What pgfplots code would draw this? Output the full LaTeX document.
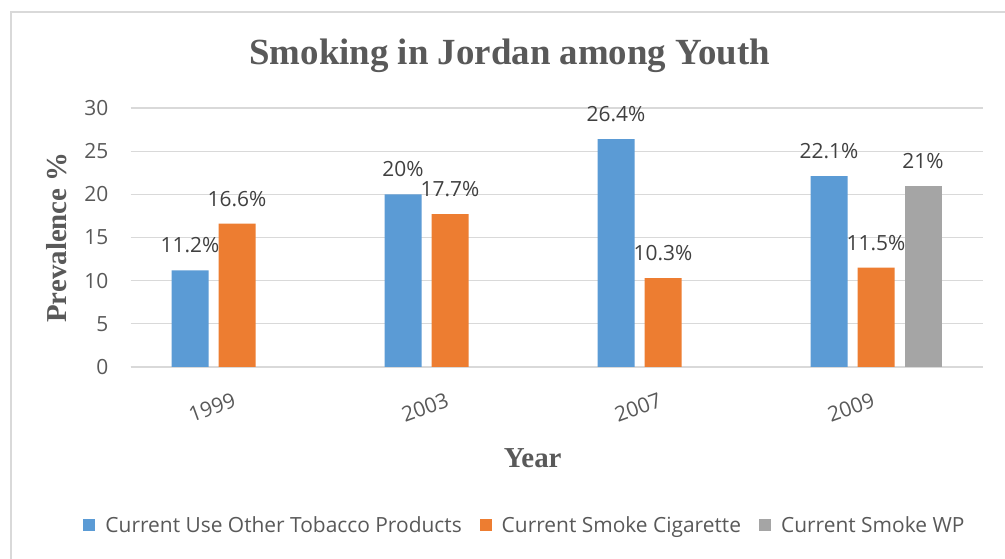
\documentclass[border=0pt]{standalone}
\usepackage{pgfplots}
\pgfplotsset{compat=1.18}
\usepackage{fontspec}
\setmainfont{Open Sans}
\newfontfamily\serifb{Liberation Serif}
\definecolor{cblue}{HTML}{5B9BD5}
\definecolor{corange}{HTML}{ED7D31}
\definecolor{cgray}{HTML}{A5A5A5}
\definecolor{txt}{HTML}{595959}
\definecolor{dtxt}{HTML}{404040}
\definecolor{gridc}{HTML}{D9D9D9}
\begin{document}
\begin{tikzpicture}[x=1bp,y=1bp]
\path[use as bounding box] (0,0) rectangle (1005,559);
\fill[white] (0,0) rectangle (1005,559);
\draw[gridc, line width=2bp] (11,-5) -- (11,547) -- (1010,547);
\begin{axis}[
  at={(130.5bp,192bp)}, anchor=south west,
  scale only axis, width=852bp, height=259bp,
  xmin=-0.5, xmax=3.5, ymin=0, ymax=30,
  ybar, bar width=37bp,
  axis x line*=bottom, axis y line*=left,
  y axis line style={draw=none},
  x axis line style={gridc, line width=1.5bp},
  major tick length=0pt,
  ytick={0,5,...,30},
  xtick={0,1,2,3}, xticklabels={1999,2003,2007,2009},
  ymajorgrids, grid style={gridc, line width=1.3bp},
  /pgf/number format/assume math mode=true,
  ticklabel style={font=\fontsize{21}{25}\selectfont, text=txt},
  yticklabel style={anchor=east, inner sep=0pt, xshift=-22bp},
  xticklabel style={xshift=-5bp, yshift=-25bp, rotate=20, anchor=north east, inner sep=0pt},
  title={Smoking in Jordan among Youth},
  title style={font=\serifb\bfseries\fontsize{37}{44}\selectfont, text=txt, at={(axis description cs:0.445,1)}, anchor=center, yshift=46bp},
  xlabel={Year},
  xlabel style={font=\serifb\bfseries\fontsize{29}{34}\selectfont, text=txt, at={(axis description cs:0.472,-0.351)}, anchor=center},
  ylabel={Prevalence \%},
  ylabel style={font=\serifb\bfseries\fontsize{29}{34}\selectfont, text=txt, at={(axis description cs:-0.0869,0.5)}, anchor=center},
  nodes near coords={\pgfmathprintnumber{\pgfplotspointmeta}\%},
  every node near coord/.append style={font=\fontsize{21}{25}\selectfont, text=dtxt, anchor=center, yshift=25bp},
  legend style={at={(axis description cs:0.463,-0.61)}, anchor=center, draw=none, fill=none, legend columns=3, font=\fontsize{21}{25}\selectfont, text=txt,
    /tikz/every odd column/.append style={column sep=8bp},
    /tikz/every even column/.append style={column sep=16bp}},
]
\addplot[fill=cblue, draw=none, bar shift=-47bp, legend image code/.code={\fill[cblue] (0bp,-6bp) rectangle (12bp,6bp);}] coordinates {(0,11.2) (1,20) (2,26.4) (3,22.1)};
\addplot[fill=corange, draw=none, bar shift=0bp, legend image code/.code={\fill[corange] (0bp,-6bp) rectangle (12bp,6bp);}] coordinates {(0,16.6) (1,17.7) (2,10.3) (3,11.5)};
\addplot[fill=cgray, draw=none, bar shift=47bp, legend image code/.code={\fill[cgray] (0bp,-6bp) rectangle (12bp,6bp);}] coordinates {(3,21)};
\legend{Current Use Other Tobacco Products, Current Smoke Cigarette, Current Smoke WP}
\end{axis}
\end{tikzpicture}
\end{document}
